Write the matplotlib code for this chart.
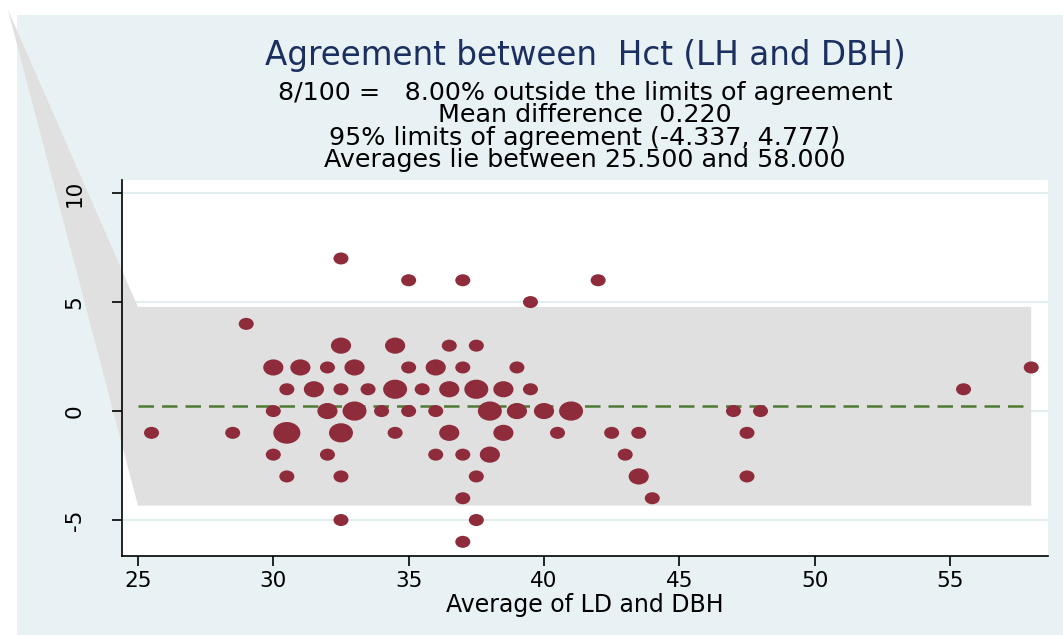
import numpy as np
import matplotlib
matplotlib.use("Agg")
import matplotlib.pyplot as plt
from matplotlib.path import Path
from matplotlib.patches import Polygon, Rectangle

# average, difference, number of obs at that point
avg = [25.5, 28.5, 29, 30, 30, 30, 30.5, 30.5, 30.5, 31, 31.5, 32, 32, 32,
       32.5, 32.5, 32.5, 32.5, 32.5, 32.5, 33, 33, 33.5, 34, 34.5, 34.5, 34.5,
       35, 35, 35, 35.5, 36, 36, 36, 36.5, 36.5, 36.5, 37, 37, 37, 37, 37,
       37.5, 37.5, 37.5, 37.5, 38, 38, 38.5, 38.5, 39, 39, 39.5, 39.5, 40,
       40.5, 41, 42, 42.5, 43, 43.5, 43.5, 44, 47, 47.5, 47.5, 48, 55.5, 58]
diff = [-1, -1, 4, 2, 0, -2, 1, -1, -3, 2, 1, 2, 0, -2,
        7, 3, 1, -1, -3, -5, 2, 0, 1, 0, 3, 1, -1,
        6, 2, 0, 1, 2, 0, -2, 3, 1, -1, 6, 2, -2, -4, -6,
        3, 1, -3, -5, 0, -2, 1, -1, 2, 0, 5, 1, 0,
        -1, 0, 6, -1, -2, -1, -3, -4, 0, -1, -3, 0, 1, 2]
n_obs = [1, 1, 1, 2, 1, 1, 1, 4, 1, 2, 2, 1, 2, 1,
         1, 2, 1, 3, 1, 1, 2, 3, 1, 1, 2, 3, 1,
         1, 1, 1, 1, 2, 1, 1, 1, 2, 2, 1, 1, 1, 1, 1,
         1, 3, 1, 1, 3, 2, 2, 2, 1, 2, 1, 1, 2,
         1, 3, 1, 1, 1, 1, 2, 1, 1, 1, 1, 1, 1, 1]

mean_diff = 0.220
loa = [-4.337, 4.777]
band_x = [25, 58]

xticks = [25, 30, 35, 40, 45, 50, 55]
yticks = [-5, 0, 5, 10]

title = "Agreement between  Hct (LH and DBH)"
subtitle = ["8/100 =   8.00% outside the limits of agreement",
            "Mean difference  0.220",
            "95% limits of agreement (-4.337, 4.777)",
            "Averages lie between 25.500 and 58.000"]
xlab = "Average of LD and DBH"

W, H = 1063, 635
bg = "#E8F1F3"
band_col = "#E0E0E0"
grid_col = "#E3EDF0"
dot_col = "#8E2C3B"
navy = "#1B2F60"

plt.rcParams["axes.unicode_minus"] = False

fig = plt.figure(figsize=(W / 100, H / 100), dpi=100)
fig.patch.set_facecolor("white")
# stata-ish outer region
fig.patches.append(Rectangle((17 / W, 0), 1, 1 - 15 / H, transform=fig.transFigure,
                             facecolor=bg, edgecolor="none", zorder=-1))

ax = fig.add_axes([122 / W, 1 - 556 / H, (1048 - 122) / W, (556 - 180) / H])
ax.set_xlim(24.41, 58.62)
ax.set_ylim(-6.65, 10.6)
ax.set_facecolor("white")

for y in yticks:
    ax.axhline(y, color=grid_col, lw=1.5, zorder=0.5)

# limits-of-agreement band (with the odd stata wedge to the top left corner)
apex = ax.transData.inverted().transform(fig.transFigure.transform((8 / W, 1 - 10 / H)))
verts = [tuple(apex), (band_x[0], loa[1]), (band_x[1], loa[1]),
         (band_x[1], loa[0]), (band_x[0], loa[0])]
ax.add_patch(Polygon(verts, closed=True, facecolor=band_col, edgecolor="none",
                     zorder=1, clip_on=False))

ax.plot(band_x, [mean_diff, mean_diff], color="#4F7A33", lw=1.8,
        linestyle=(0, (6.2, 3.2)), zorder=2)

circ = Path.unit_circle()
ellipse = Path(circ.vertices * np.array([1.25, 1.0]), circ.codes)
sizes = 117 * np.array(n_obs) ** 0.85
ax.scatter(avg, diff, s=sizes, marker=ellipse, color=dot_col, linewidths=0, zorder=3)

for s in ["top", "right"]:
    ax.spines[s].set_visible(False)
for s in ["left", "bottom"]:
    ax.spines[s].set_linewidth(1.2)
    ax.spines[s].set_zorder(4)

ax.set_xticks(xticks)
ax.set_yticks(yticks)
ax.tick_params(axis="both", length=7, width=1.2, labelsize=15.5, direction="out")
ax.tick_params(axis="x", pad=4)
ax.tick_params(axis="y", pad=20)
for lab in ax.get_yticklabels():
    lab.set_rotation(90)
    lab.set_va("center")
ax.set_xlabel(xlab, fontsize=17, labelpad=1)

cx = 585 / W
fig.text(cx, 1 - 65 / H, title, ha="center", va="baseline", fontsize=23.5, color=navy)
for i, line in enumerate(subtitle):
    fig.text(cx, 1 - (100 + 22.5 * i) / H, line, ha="center", va="baseline",
             fontsize=18.3, color="black")

fig.savefig("out.png", dpi=100, facecolor=fig.get_facecolor())
